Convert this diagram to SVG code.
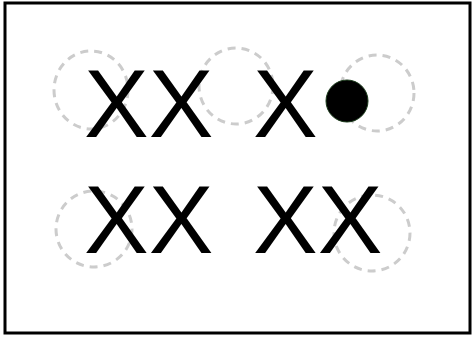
<svg xmlns="http://www.w3.org/2000/svg" width="474" height="337" viewBox="0 0 474 337">
<style>
.t{font-family:"Liberation Sans",Arial,sans-serif;font-size:97px;fill:#000}
.c{fill:none;stroke:#cccccc;stroke-width:3;stroke-dasharray:8 6}
</style>
<rect x="0" y="0" width="474" height="337" fill="#fff"/>
<rect id="frame" x="5" y="3" width="465" height="330" fill="#fff" stroke="#000" stroke-width="3"/>
<g id="circles">
<ellipse class="c" cx="91" cy="90" rx="37" ry="39"/>
<ellipse class="c" cx="236" cy="86" rx="37" ry="38"/>
<ellipse class="c" cx="377" cy="93" rx="37" ry="38"/>
<ellipse class="c" cx="94" cy="229" rx="38" ry="38"/>
<ellipse class="c" cx="372" cy="233" rx="38" ry="38"/>
</g>
<g id="text">
<text class="t" x="84" y="137">XX</text>
<text class="t" x="253" y="137">X</text>
<text class="t" x="84" y="253">XX</text>
<text class="t" x="253" y="253">XX</text>
</g>
<circle id="dot" cx="347" cy="101" r="21" fill="#000" stroke="#1a3a1a" stroke-width="1"/>
</svg>
